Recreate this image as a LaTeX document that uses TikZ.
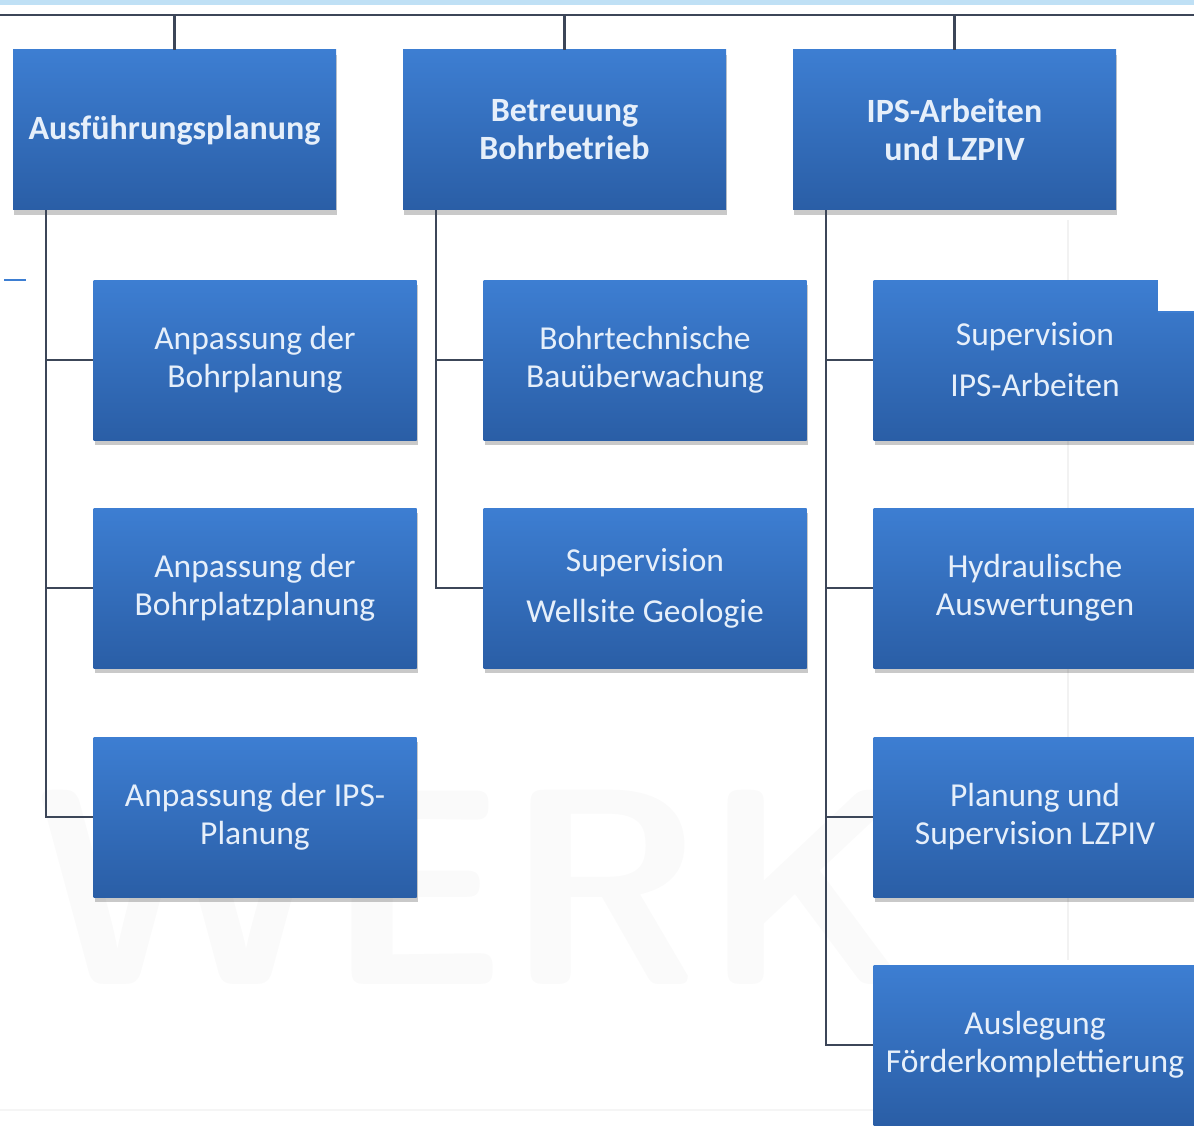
\documentclass[tikz,border=0pt]{standalone}
\usepackage{fontspec}
\setmainfont{Carlito}
\usetikzlibrary{shadows,calc}
\definecolor{boxtop}{HTML}{3D7ED2}
\definecolor{boxbot}{HTML}{2A5EA6}
\definecolor{linec}{HTML}{3C4658}
\definecolor{txt}{HTML}{E6EFFA}
\definecolor{band}{HTML}{BFE0F5}
\tikzset{
  box/.style={rectangle, minimum width=323pt, minimum height=160pt, inner sep=0pt,
    top color=boxtop, bottom color=boxbot, draw=none, text=txt, align=center,
    font=\fontsize{33.5}{38}\selectfont,
    drop shadow={shadow xshift=1pt, shadow yshift=-5pt, opacity=0.3, fill=black!70}},
  headbox/.style={box, font=\fontsize{34}{38}\selectfont\bfseries},
  conn/.style={draw=linec, line width=2.4pt}
}
\begin{document}
\begin{tikzpicture}[x=1pt,y=-1pt]
\useasboundingbox (0,0) rectangle (1194,1126);
\clip (0,0) rectangle (1194,1126);
% faint background artefacts
\node[anchor=north west, text=black!2, font=\fontsize{280}{280}\selectfont\sffamily\bfseries, inner sep=0pt] (wm) at (35,790) {WERK};
\draw[black!5, line width=1.5pt] (1068,220) -- (1068,960);
\draw[black!4, line width=2pt] (0,1110) -- (1194,1110);
% top band
\fill[band] (0,0) rectangle (1194,5);
% top bus line
\coordinate (L) at (0,15);
\coordinate (R) at (1194,15);
\draw[conn] (L) -- (R);
% head boxes
\node[headbox] (p1) at (174.5,130) {Ausführungsplanung};
\node[headbox] (p2) at (564.5,130) {Betreuung\\Bohrbetrieb};
\node[headbox] (p3) at (954.5,130) {IPS-Arbeiten\\und LZPIV};
\draw[conn] (p1.north) -- (p1.north |- L);
\draw[conn] (p2.north) -- (p2.north |- L);
\draw[conn] (p3.north) -- (p3.north |- L);
% child boxes
\node[box] (a1) at (255,360) {Anpassung der\\Bohrplanung};
\node[box] (a2) at (255,588) {Anpassung der\\Bohrplatzplanung};
\node[box] (a3) at (255,817) {Anpassung der IPS-\\Planung};
\node[box] (b1) at (645,360) {Bohrtechnische\\Bauüberwachung};
\node[box] (b2) at (645,588) {Supervision\\[13pt]Wellsite Geologie};
\node[box] (c1) at (1035,360) {Supervision\\[13pt]IPS-Arbeiten};
\node[box] (c2) at (1035,588) {Hydraulische\\Auswertungen};
\node[box] (c3) at (1035,817) {Planung und\\Supervision LZPIV};
\node[box] (c4) at (1035,1045) {Auslegung\\Förderkomplettierung};
% connectors
\foreach \c in {a1,a2,a3} \draw[conn] ([xshift=33pt]p1.south west) |- (\c.west);
\foreach \c in {b1,b2} \draw[conn] ([xshift=33pt]p2.south west) |- (\c.west);
\foreach \c in {c1,c2,c3,c4} \draw[conn] ([xshift=33pt]p3.south west) |- (\c.west);
% small artefacts
\draw[boxtop, line width=2.5pt] (4,280) -- (26,280);
\fill[white] (1158,276) rectangle (1194,312);
\draw[boxtop, line width=2pt] (1158,312) -- (1194,312);
\end{tikzpicture}
\end{document}
